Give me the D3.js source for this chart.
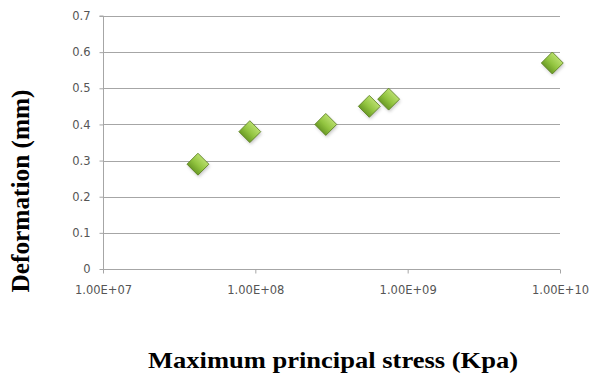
<!DOCTYPE html>
<html><head><meta charset="utf-8">
<script src="https://cdn.jsdelivr.net/npm/d3@7"></script>
<style>html,body{margin:0;padding:0;background:#fff;}svg{display:block;}</style>
</head><body>
<script>
const stress = [4.2e7, 9.2e7, 2.9e8, 5.6e8, 7.5e8, 8.9e9];
const deformation = [0.29, 0.38, 0.40, 0.45, 0.47, 0.57];
const xTicks = [1e7, 1e8, 1e9, 1e10];
const xTickLabels = ["1.00E+07", "1.00E+08", "1.00E+09", "1.00E+10"];
const yTicks = [0, 0.1, 0.2, 0.3, 0.4, 0.5, 0.6, 0.7];
const yTickLabels = ["0", "0.1", "0.2", "0.3", "0.4", "0.5", "0.6", "0.7"];
const xTitle = "Maximum principal stress (Kpa)";
const yTitle = "Deformation (mm)";

const W = 598, H = 375;
const m = {left: 103, right: 38, top: 16, bottom: 106};
const svg = d3.select("body").append("svg").attr("width", W).attr("height", H);
const defs = svg.append("defs");
const grad = defs.append("linearGradient").attr("id", "g").attr("x1", "0").attr("y1", "0").attr("x2", "0").attr("y2", "1");
grad.append("stop").attr("offset", "0%").attr("stop-color", "#b8de6c");
grad.append("stop").attr("offset", "55%").attr("stop-color", "#92c440");
grad.append("stop").attr("offset", "100%").attr("stop-color", "#6b9b26");
const blur = defs.append("filter").attr("id", "sh").attr("x", "-50%").attr("y", "-50%").attr("width", "200%").attr("height", "200%");
blur.append("feGaussianBlur").attr("stdDeviation", 1.5);

const x = d3.scaleLog().domain([1e7, 1e10]).range([m.left, W - m.right]);
const y = d3.scaleLinear().domain([0, 0.7]).range([H - m.bottom, m.top]);

const font = "'DejaVu Sans', Verdana, sans-serif";
const gridColor = "#a6a6a6";

// gridlines
svg.append("g").selectAll("line").data(yTicks.slice(1)).join("line")
  .attr("x1", m.left).attr("x2", W - m.right)
  .attr("y1", d => Math.round(y(d)) + 0.5).attr("y2", d => Math.round(y(d)) + 0.5)
  .attr("stroke", gridColor).attr("stroke-width", 1.2);

// y axis
const yAxis = svg.append("g").attr("transform", `translate(${m.left + 0.5},0)`)
  .call(d3.axisLeft(y).tickValues(yTicks).tickSize(4).tickPadding(9).tickFormat((d, i) => yTickLabels[i]));
yAxis.select(".domain").attr("stroke", gridColor).attr("d", `M-4,${y(0.7)}H0V${y(0)}`);
yAxis.selectAll(".tick line").attr("stroke", gridColor);
yAxis.selectAll(".tick text").attr("fill", "#555").attr("font-family", font).attr("font-size", 11.5);

// x axis
const xAxis = svg.append("g").attr("transform", `translate(0,${Math.round(y(0)) + 0.5})`)
  .call(d3.axisBottom(x).tickValues(xTicks).tickSize(4).tickPadding(12).tickFormat((d, i) => xTickLabels[i]));
xAxis.select(".domain").attr("stroke", gridColor).attr("stroke-width", 1.2).attr("d", `M${m.left},0H${W - m.right}`);
xAxis.selectAll(".tick line").attr("stroke", gridColor);
xAxis.selectAll(".tick text").attr("fill", "#555").attr("font-family", font).attr("font-size", 11.5);

// markers
const pts = stress.map((s, i) => ({s, d: deformation[i]}));
const sym = d3.symbol(d3.symbolSquare, 240);
svg.append("g").selectAll("path").data(pts).join("path")
  .attr("d", sym)
  .attr("transform", d => `translate(${x(d.s) + 1},${y(d.d) + 2}) rotate(45)`)
  .attr("fill", "rgba(0,0,0,0.22)").attr("filter", "url(#sh)");
svg.append("g").selectAll("path").data(pts).join("path")
  .attr("d", sym)
  .attr("transform", d => `translate(${x(d.s)},${y(d.d)}) rotate(45)`)
  .attr("fill", "url(#g)").attr("stroke", "#5b7f20").attr("stroke-width", 0.8);

// titles
svg.append("text").attr("x", 333).attr("y", 368).attr("text-anchor", "middle")
  .attr("font-family", "'Liberation Serif', 'Times New Roman', serif").attr("font-weight", "bold")
  .attr("font-size", 23).attr("textLength", 370).attr("lengthAdjust", "spacingAndGlyphs")
  .attr("fill", "#000").text(xTitle);
svg.append("text").attr("transform", "translate(29,191) rotate(-90)").attr("text-anchor", "middle")
  .attr("font-family", "'Liberation Serif', 'Times New Roman', serif").attr("font-weight", "bold")
  .attr("font-size", 25).attr("textLength", 203).attr("lengthAdjust", "spacingAndGlyphs")
  .attr("fill", "#000").text(yTitle);
</script>
</body></html>
